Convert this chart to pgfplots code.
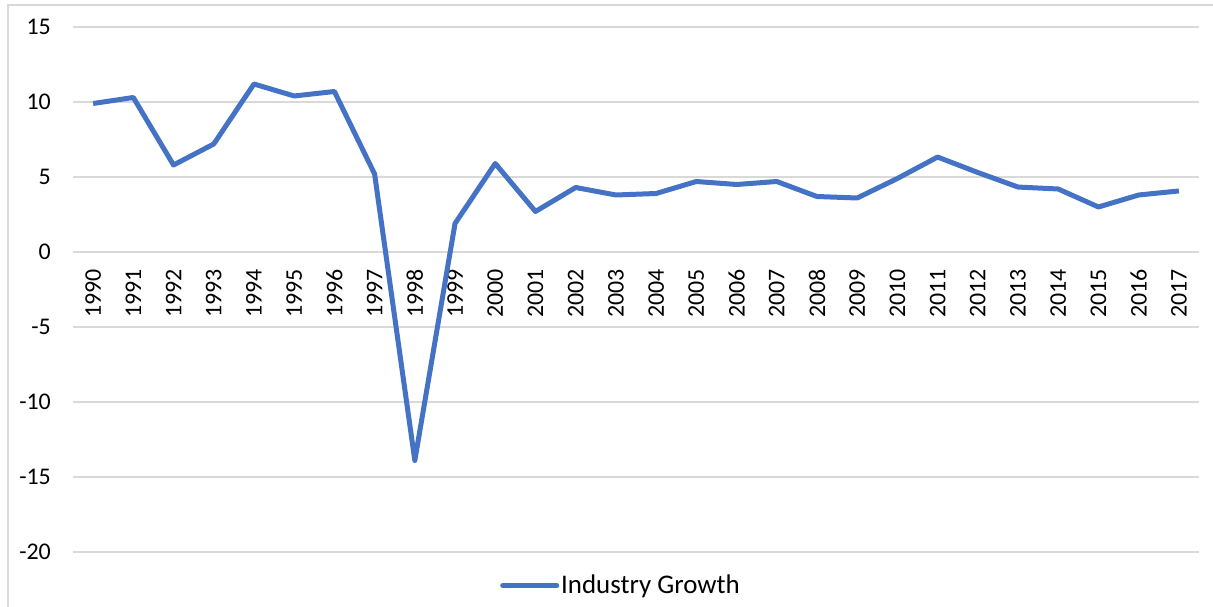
\documentclass[border=0pt]{standalone}
\usepackage{pgfplots}
\pgfplotsset{compat=1.18}
\usepackage{fontspec}
\setmainfont{Carlito}
\definecolor{exblue}{HTML}{4472C4}
\definecolor{gridc}{HTML}{D9D9D9}
\begin{document}
\fontsize{24}{28}\selectfont
\begin{tikzpicture}
\useasboundingbox (-73bp,-55bp) rectangle (1140bp,552bp);
\draw[gridc, line width=1.5bp] (-65bp,-70bp) -- (-65bp,547bp) -- (1150bp,547bp);
\begin{axis}[
  at={(0,0)}, anchor=south west,
  scale only axis, width=1126bp, height=525bp,
  xmin=-0.5, xmax=27.5, ymin=-20, ymax=15,
  axis x line=middle, axis y line=left,
  x axis line style={draw=gridc, line width=1.2bp, -},
  y axis line style={draw=none},
  ytick={-20,-15,-10,-5,0,5,10,15},
  yticklabels={-20,-15,-10,-5,0,5,10,15},
  xtick={0,...,27},
  xticklabels={1990,1991,1992,1993,1994,1995,1996,1997,1998,1999,2000,2001,2002,2003,2004,2005,2006,2007,2008,2009,2010,2011,2012,2013,2014,2015,2016,2017},
  xticklabel style={rotate=90, anchor=east, xshift=-9bp},
  yticklabel style={anchor=east, xshift=-14bp},
  major tick length=0,
  ymajorgrids, grid style={gridc, line width=1.2bp},
  tick label style={font=\fontsize{24}{28}\selectfont, text=black},
  legend style={draw=none, at={(0.5,-0.035)}, xshift=-15bp, anchor=north, font=\fontsize{27}{31}\selectfont, inner sep=2bp},
  legend image code/.code={\draw[#1, line width=5bp, line cap=round] (0bp,0bp) -- (54bp,0bp);},
  clip=false,
]
\addplot[exblue, line width=5bp, line join=round] coordinates {
(0,9.9) (1,10.3) (2,5.8) (3,7.2) (4,11.2) (5,10.4) (6,10.7) (7,5.2) (8,-13.9) (9,1.9)
(10,5.9) (11,2.7) (12,4.3) (13,3.8) (14,3.9) (15,4.7) (16,4.5) (17,4.7) (18,3.7) (19,3.6)
(20,4.9) (21,6.33) (22,5.3) (23,4.33) (24,4.2) (25,3.0) (26,3.8) (27,4.07)
};
\addlegendentry{Industry Growth}
\end{axis}
\end{tikzpicture}
\end{document}
